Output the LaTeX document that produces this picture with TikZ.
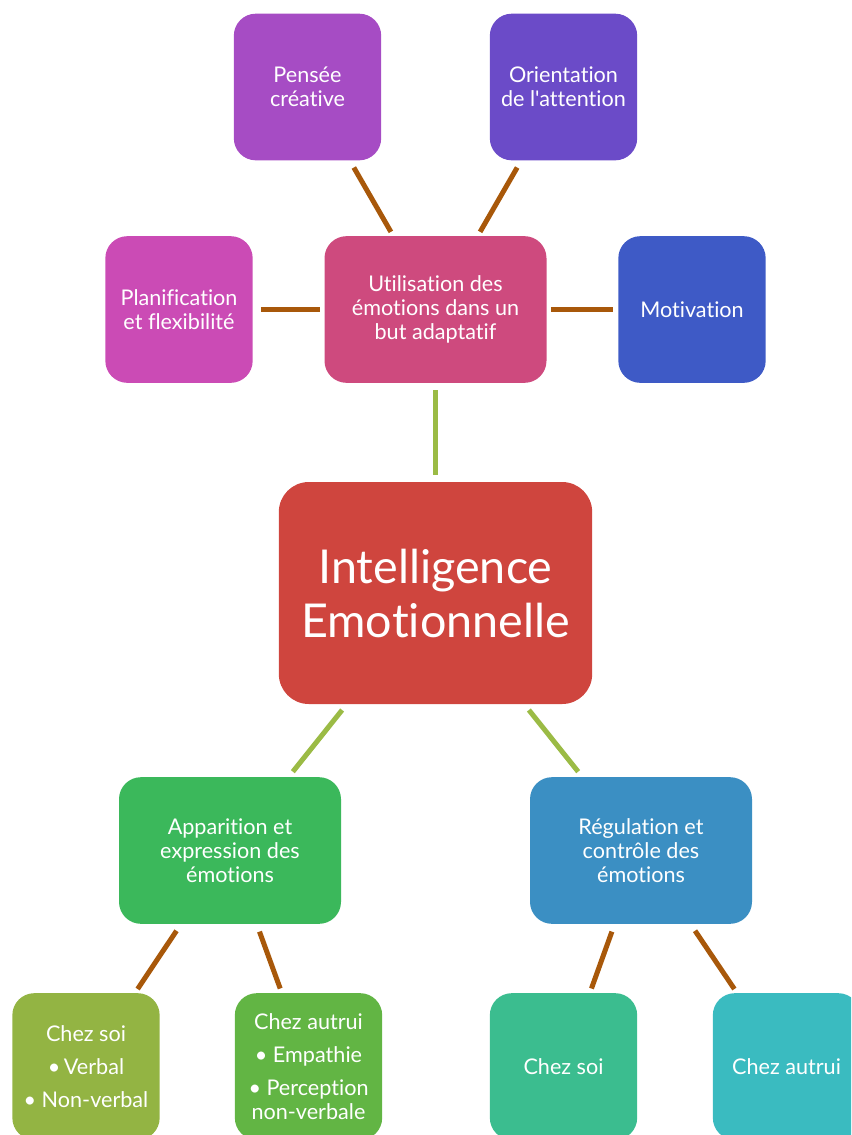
\documentclass[tikz,border=0pt]{standalone}
\usepackage{fontspec}
\setmainfont{Lato}[Ligatures={CommonOff,ContextualOff,TeXOff}]
\begin{document}
\begin{tikzpicture}[x=0.75pt,y=-0.75pt,
  box/.style={rounded corners=16.5pt, text=white, align=center, inner sep=0pt,
    minimum width=110.5pt, minimum height=110pt, font=\fontsize{16.2}{18}\selectfont},
  wbox/.style={box, minimum width=166.5pt},
  bigbox/.style={rounded corners=22.5pt, text=white, align=center, inner sep=0pt,
    minimum width=235pt, minimum height=166.5pt, font=\fontsize{35}{40.5}\selectfont},
  brownline/.style={draw=cBrown, line width=3.75pt, shorten <=6pt, shorten >=3.5pt},
  greenline/.style={draw=cGreenL, line width=3.75pt, shorten <=5.5pt, shorten >=5pt}
]
\definecolor{cPensee}{HTML}{A64CC4}
\definecolor{cOrient}{HTML}{6B4BC8}
\definecolor{cPlan}{HTML}{CB4BB5}
\definecolor{cUtil}{HTML}{CE4A7E}
\definecolor{cMotiv}{HTML}{3E5AC6}
\definecolor{cIE}{HTML}{CF453E}
\definecolor{cAppar}{HTML}{3BB85B}
\definecolor{cRegul}{HTML}{3B8FC3}
\definecolor{cCsA}{HTML}{93B443}
\definecolor{cCaA}{HTML}{62B544}
\definecolor{cCsB}{HTML}{3BBD8F}
\definecolor{cCaB}{HTML}{3ABBC0}
\definecolor{cBrown}{HTML}{A8580A}
\definecolor{cGreenL}{HTML}{9BBB45}

\useasboundingbox (0,0) rectangle (851,1135);
\clip (0,0) rectangle (851,1135);

\node[box, fill=cPensee] (pensee) at (307.5,87) {Pensée\\créative};
\node[box, fill=cOrient] (orient) at (563.5,87) {Orientation\\de l'attention};
\node[box, fill=cPlan] (plan) at (179,309.5) {Planification\\et flexibilité};
\node[wbox, fill=cUtil] (util) at (435.5,309.5) {Utilisation des\\émotions dans un\\but adaptatif};
\node[box, fill=cMotiv] (motiv) at (692,309.5) {Motivation};
\node[bigbox, fill=cIE] (ie) at (435.5,593) {Intelligence\\Emotionnelle};
\node[wbox, fill=cAppar] (appar) at (230,850.5) {Apparition et\\expression des\\émotions};
\node[wbox, fill=cRegul] (regul) at (641,850.5) {Régulation et\\contrôle des\\émotions};
\node[box, fill=cCsA] (csA) at (86,1066.5) {Chez soi\\[7pt]\textbullet\,Verbal\\[7pt]\textbullet\ Non-verbal};
\node[box, fill=cCaA] (caA) at (308.5,1066.5) {Chez autrui\\[7pt]\textbullet\ Empathie\\[7pt]\textbullet\ Perception\\non-verbale};
\node[box, fill=cCsB] (csB) at (563.5,1066.5) {Chez soi};
\node[box, fill=cCaB] (caB) at (786.5,1066.5) {Chez autrui};

\draw[brownline] (pensee) -- (util);
\draw[brownline] (orient) -- (util);
\draw[brownline] (plan) -- (util);
\draw[brownline, shorten <=3pt, shorten >=3.5pt] (util) -- (motiv);
\draw[greenline] (util) -- (ie);
\draw[greenline] (ie) -- (appar);
\draw[greenline] (ie) -- (regul);
\draw[brownline] (appar) -- (csA);
\draw[brownline] (appar) -- (caA);
\draw[brownline] (regul) -- (csB);
\draw[brownline] (regul) -- (caB);
\end{tikzpicture}
\end{document}
